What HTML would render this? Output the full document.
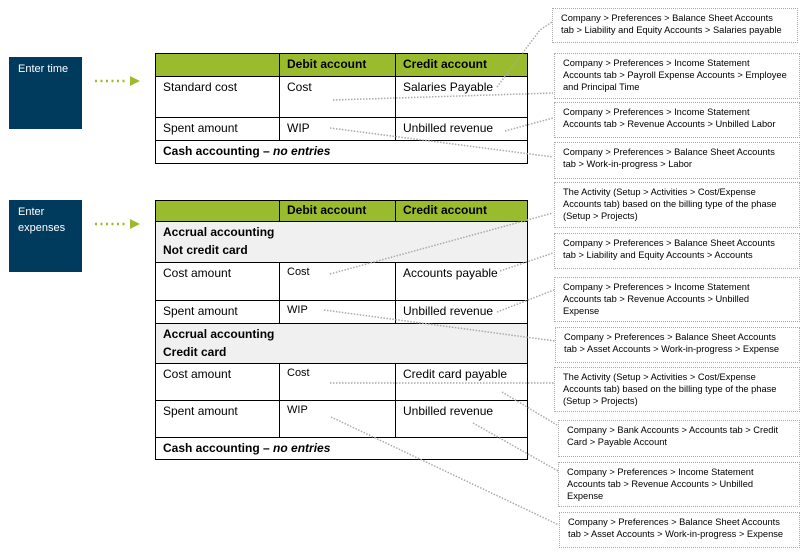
<!DOCTYPE html>
<html><head><meta charset="utf-8"><style>
body{margin:0;width:807px;height:554px;background:#fff;position:relative;overflow:hidden;font-family:"Liberation Sans",Arial,sans-serif;}
.blue{position:absolute;left:9px;width:73px;height:72px;background:#003a5d;color:#fff;font-size:11px;line-height:16px;padding:0;box-sizing:border-box;}
.blue span{position:absolute;left:9px;top:4px;}
.c{position:absolute;box-sizing:border-box;border:1px solid #000;font-size:12px;color:#000;padding:3px 7px;line-height:15px;}
.h{background:#9bbb2f;font-weight:bold;}
.g{background:#f0f0f0;font-weight:bold;line-height:18px;padding-top:1px;}
.n{position:absolute;box-sizing:border-box;border:1px dotted #aaa;font-size:9.3px;line-height:12px;color:#000;padding:3px 0 0 8px;left:554px;width:246px;white-space:nowrap;}
svg{position:absolute;left:0;top:0;}
</style></head><body>
<div class="blue" style="top:57px"><span>Enter time</span></div>
<div class="blue" style="top:200px"><span>Enter<br>expenses</span></div>

<div class="c h" style="left:155px;top:53px;width:125px;height:24px"></div>
<div class="c h" style="left:279px;top:53px;width:117px;height:24px">Debit account</div>
<div class="c h" style="left:395px;top:53px;width:133px;height:24px">Credit account</div>
<div class="c" style="left:155px;top:76px;width:125px;height:42px">Standard cost</div>
<div class="c" style="left:279px;top:76px;width:117px;height:42px">Cost</div>
<div class="c" style="left:395px;top:76px;width:133px;height:42px">Salaries Payable</div>
<div class="c" style="left:155px;top:117px;width:125px;height:24px">Spent amount</div>
<div class="c" style="left:279px;top:117px;width:117px;height:24px">WIP</div>
<div class="c" style="left:395px;top:117px;width:133px;height:24px">Unbilled revenue</div>
<div class="c" style="left:155px;top:140px;width:373px;height:24px;font-weight:bold">Cash accounting – <i>no entries</i></div>

<div class="c h" style="left:155px;top:200px;width:125px;height:22px;padding-top:2px"></div>
<div class="c h" style="left:279px;top:200px;width:117px;height:22px;padding-top:2px">Debit account</div>
<div class="c h" style="left:395px;top:200px;width:133px;height:22px;padding-top:2px">Credit account</div>
<div class="c g" style="left:155px;top:221px;width:373px;height:42px">Accrual accounting<br>Not credit card</div>
<div class="c" style="left:155px;top:262px;width:125px;height:39px">Cost amount</div>
<div class="c" style="left:279px;top:262px;width:117px;height:39px;font-size:11px;padding-top:2px">Cost</div>
<div class="c" style="left:395px;top:262px;width:133px;height:39px">Accounts payable</div>
<div class="c" style="left:155px;top:300px;width:125px;height:24px">Spent amount</div>
<div class="c" style="left:279px;top:300px;width:117px;height:24px;font-size:11px;padding-top:2px">WIP</div>
<div class="c" style="left:395px;top:300px;width:133px;height:24px">Unbilled revenue</div>
<div class="c g" style="left:155px;top:323px;width:373px;height:41px">Accrual accounting<br>Credit card</div>
<div class="c" style="left:155px;top:363px;width:125px;height:38px">Cost amount</div>
<div class="c" style="left:279px;top:363px;width:117px;height:38px;font-size:11px;padding-top:2px">Cost</div>
<div class="c" style="left:395px;top:363px;width:133px;height:38px">Credit card payable</div>
<div class="c" style="left:155px;top:400px;width:125px;height:38px">Spent amount</div>
<div class="c" style="left:279px;top:400px;width:117px;height:38px;font-size:11px;padding-top:2px">WIP</div>
<div class="c" style="left:395px;top:400px;width:133px;height:38px">Unbilled revenue</div>
<div class="c" style="left:155px;top:437px;width:373px;height:23px;font-weight:bold">Cash accounting – <i>no entries</i></div>

<div class="n" style="left:552px;top:8px;height:35px">Company &gt; Preferences &gt; Balance Sheet Accounts<br>tab &gt; Liability and Equity Accounts &gt; Salaries payable</div>
<div class="n" style="top:53px;height:46px">Company &gt; Preferences &gt; Income Statement<br>Accounts tab &gt; Payroll Expense Accounts &gt; Employee<br>and Principal Time</div>
<div class="n" style="top:102px;height:36px">Company &gt; Preferences &gt; Income Statement<br>Accounts tab &gt; Revenue Accounts &gt; Unbilled Labor</div>
<div class="n" style="top:142px;height:37px">Company &gt; Preferences &gt; Balance Sheet Accounts<br>tab &gt; Work-in-progress &gt; Labor</div>
<div class="n" style="top:182px;height:46px">The Activity (Setup &gt; Activities &gt; Cost/Expense<br>Accounts tab) based on the billing type of the phase<br>(Setup &gt; Projects)</div>
<div class="n" style="top:233px;height:36px">Company &gt; Preferences &gt; Balance Sheet Accounts<br>tab &gt; Liability and Equity Accounts &gt; Accounts</div>
<div class="n" style="left:554px;top:277px;height:45px">Company &gt; Preferences &gt; Income Statement<br>Accounts tab &gt; Revenue Accounts &gt; Unbilled<br>Expense</div>
<div class="n" style="left:555px;top:327px;width:245px;height:36px">Company &gt; Preferences &gt; Balance Sheet Accounts<br>tab &gt; Asset Accounts &gt; Work-in-progress &gt; Expense</div>
<div class="n" style="left:554px;top:367px;height:45px">The Activity (Setup &gt; Activities &gt; Cost/Expense<br>Accounts tab) based on the billing type of the phase<br>(Setup &gt; Projects)</div>
<div class="n" style="left:558px;top:420px;width:242px;height:37px">Company &gt; Bank Accounts &gt; Accounts tab &gt; Credit<br>Card &gt; Payable Account</div>
<div class="n" style="left:558px;top:462px;width:242px;height:45px">Company &gt; Preferences &gt; Income Statement<br>Accounts tab &gt; Revenue Accounts &gt; Unbilled<br>Expense</div>
<div class="n" style="left:559px;top:512px;width:241px;height:36px">Company &gt; Preferences &gt; Balance Sheet Accounts<br>tab &gt; Asset Accounts &gt; Work-in-progress &gt; Expense</div>

<svg width="807" height="554">
<g stroke="#9bbb2f" stroke-width="2.5" stroke-dasharray="2,3.5" fill="none">
<line x1="95" y1="81" x2="128" y2="81"/><line x1="95" y1="224" x2="128" y2="224"/>
</g>
<g fill="#9bbb2f"><polygon points="130,76 140,81 130,86"/><polygon points="130,219 140,224 130,229"/></g>
<g stroke="#aaa" stroke-width="1.5" stroke-dasharray="1.5,1.5" fill="none">
<polyline points="497,87 540,30 552,22"/>
<line x1="333" y1="100" x2="553" y2="93"/>
<line x1="505" y1="131" x2="553" y2="118"/>
<line x1="330" y1="128" x2="553" y2="157"/>
<line x1="330" y1="274" x2="553" y2="213"/>
<line x1="500" y1="271" x2="553" y2="253"/>
<line x1="497" y1="312" x2="554" y2="290"/>
<line x1="324" y1="310" x2="555" y2="341"/>
<line x1="330" y1="383" x2="554" y2="383"/>
<line x1="502" y1="392" x2="557" y2="425"/>
<line x1="473" y1="423" x2="558" y2="471"/>
<line x1="331" y1="417" x2="559" y2="525"/>
</g>
</svg>
</body></html>
